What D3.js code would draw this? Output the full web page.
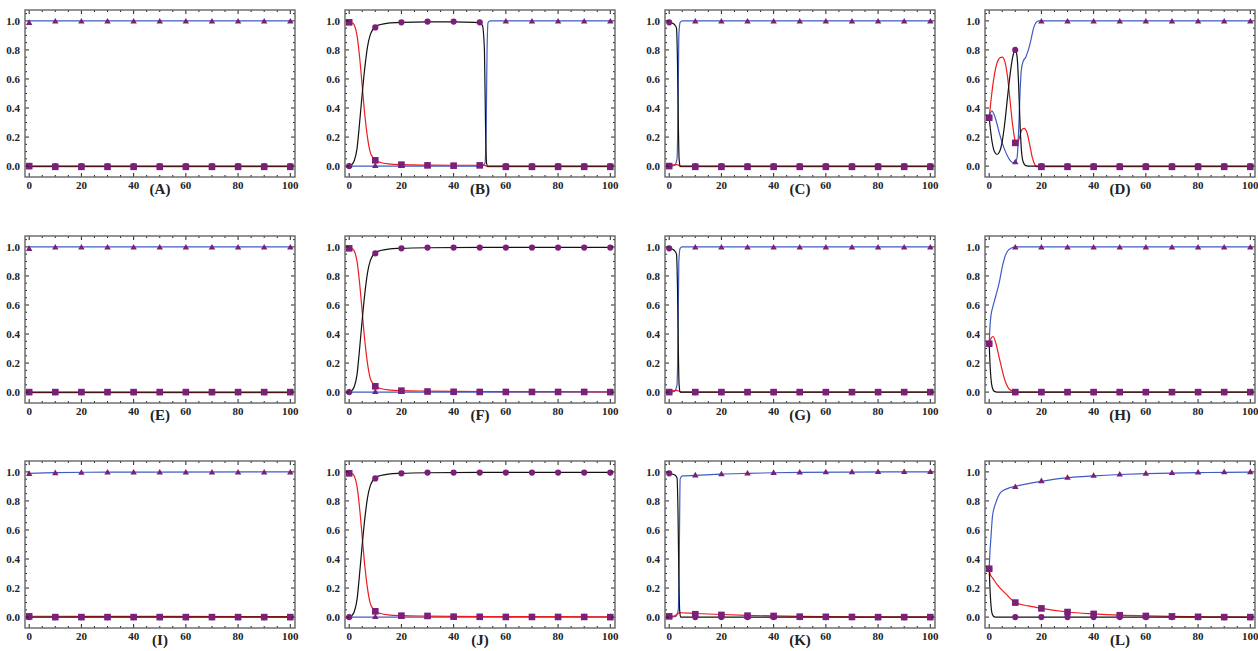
<!DOCTYPE html>
<html><head><meta charset="utf-8">
<script src="https://cdn.jsdelivr.net/npm/d3@7"></script>
<style>body{margin:0;background:#fff}svg{display:block}</style>
</head><body><svg id="c" width="1258" height="651"></svg>
<script>
const panelLabels = ["(A)","(B)","(C)","(D)","(E)","(F)","(G)","(H)","(I)","(J)","(K)","(L)"];
const xTicks = [0,20,40,60,80,100];
const yTicks = [0,0.2,0.4,0.6,0.8,1.0];
const yTickLabels = ["0.0","0.2","0.4","0.6","0.8","1.0"];
const markerX = [0,10,20,30,40,50,60,70,80,90,100];

const redCurves = [
 [[0,-0.003],[100,-0.003]],
 [[0,1.0],[1,0.99],[2,0.97],[3,0.9],[4,0.75],[5,0.55],[6,0.35],[7,0.2],[8,0.1],[9,0.06],[10,0.04],[12,0.025],[15,0.015],[20,0.01],[30,0.007],[40,0.006],[50,0.006],[52,0.005],[53,-0.004],[100,-0.004]],
 [[0,0.005],[3,0.01],[3.8,0.005],[4.2,-0.003],[100,-0.003]],
 [[0,0.333],[1,0.5],[2,0.63],[3,0.71],[4,0.745],[5,0.75],[6,0.72],[7,0.62],[8,0.45],[9,0.28],[10,0.17],[10.6,0.155],[11.5,0.19],[12.5,0.25],[13.4,0.26],[14.5,0.23],[15.5,0.15],[16.5,0.06],[17.5,0.01],[18,-0.003],[100,-0.003]],
 [[0,-0.003],[100,-0.003]],
 [[0,1.0],[1,0.99],[2,0.97],[3,0.9],[4,0.75],[5,0.55],[6,0.35],[7,0.2],[8,0.1],[9,0.06],[10,0.04],[12,0.025],[15,0.015],[20,0.01],[30,0.007],[40,0.005],[60,0.004],[80,0.003],[100,0.002]],
 [[0,0.005],[3,0.012],[3.8,0.006],[4.5,0],[100,0]],
 [[0,0.333],[0.7,0.37],[1.5,0.383],[2.5,0.34],[3.8,0.24],[5,0.15],[5.7,0.1],[6.7,0.05],[7.7,0.02],[9.6,0.004],[11,0],[100,0]],
 [[0,0.006],[50,0.005],[100,0.004]],
 [[0,1.0],[1,0.99],[2,0.97],[3,0.9],[4,0.75],[5,0.55],[6,0.35],[7,0.2],[8,0.1],[9,0.06],[10,0.04],[12,0.025],[15,0.015],[20,0.01],[30,0.007],[40,0.005],[60,0.004],[80,0.003],[100,0.002]],
 [[0,0.003],[2,0.008],[3,0.02],[4,0.03],[10,0.025],[20,0.018],[30,0.012],[40,0.008],[50,0.005],[60,0.003],[80,0.002],[100,0.001]],
 [[0,0.333],[0.5,0.29],[1.3,0.27],[3.2,0.22],[6.4,0.16],[10,0.1],[15,0.077],[20,0.06],[30,0.035],[40,0.022],[50,0.013],[60,0.008],[70,0.005],[80,0.003],[90,0.001],[100,0]]
];
const blackCurves = [
 [[0,0],[100,0]],
 [[0,0],[1,0.01],[2,0.04],[3,0.12],[4,0.3],[5,0.5],[6,0.68],[7,0.82],[8,0.9],[9,0.94],[10,0.96],[12,0.975],[15,0.985],[20,0.99],[30,0.993],[40,0.993],[48,0.99],[50,0.985],[51,0.97],[51.8,0.8],[52.2,0.3],[52.6,0.02],[53,0],[100,0]],
 [[0,0.99],[1,0.985],[2,0.975],[2.8,0.95],[3.2,0.7],[3.5,0.3],[3.8,0.05],[4.2,0],[100,0]],
 [[0,0.333],[1,0.18],[2,0.1],[3,0.08],[4,0.1],[5,0.17],[6,0.3],[7,0.47],[8,0.63],[9,0.75],[10,0.8],[10.7,0.75],[11.3,0.55],[11.8,0.3],[12.3,0.12],[13,0.03],[14,0.003],[15,0],[100,0]],
 [[0,0],[100,0]],
 [[0,0],[1,0.01],[2,0.04],[3,0.12],[4,0.3],[5,0.5],[6,0.68],[7,0.82],[8,0.9],[9,0.94],[10,0.96],[12,0.975],[15,0.985],[20,0.99],[30,0.994],[50,0.996],[100,0.997]],
 [[0,0.99],[1,0.985],[2,0.975],[2.8,0.95],[3.2,0.7],[3.5,0.3],[3.8,0.05],[4.2,0],[100,0]],
 [[0,0.333],[0.3,0.2],[0.7,0.09],[1.2,0.03],[2,0.005],[3,0],[100,0]],
 [[0,0],[100,0]],
 [[0,0],[1,0.01],[2,0.04],[3,0.12],[4,0.3],[5,0.5],[6,0.68],[7,0.82],[8,0.9],[9,0.94],[10,0.96],[12,0.975],[15,0.985],[20,0.99],[30,0.994],[50,0.996],[100,0.997]],
 [[0,0.99],[1,0.985],[2,0.98],[3,0.96],[3.4,0.7],[3.7,0.3],[4,0.05],[4.4,0],[100,0]],
 [[0,0.333],[0.3,0.2],[0.7,0.08],[1.2,0.02],[2,0.002],[3,0],[100,0]]
];
const blueCurves = [
 [[0,1],[100,1]],
 [[0,0],[50,0],[51,0.005],[52,0.02],[52.5,0.3],[52.8,0.8],[53.2,0.99],[54,1],[100,1]],
 [[0,0],[2,0.005],[3,0.05],[3.4,0.4],[3.7,0.9],[4.2,0.99],[5,1],[100,1]],
 [[0,0.333],[1,0.38],[2,0.35],[3,0.29],[4,0.22],[5,0.16],[6,0.11],[7,0.07],[8,0.04],[9,0.025],[10,0.025],[10.7,0.06],[11.3,0.25],[11.8,0.5],[12.3,0.66],[13,0.72],[14,0.75],[15,0.8],[16,0.87],[17,0.95],[18,0.99],[19,1],[100,1]],
 [[0,1],[100,1]],
 [[0,0],[100,0]],
 [[0,0],[2,0.005],[3,0.05],[3.4,0.4],[3.7,0.9],[4.2,0.99],[5,1],[100,1]],
 [[0,0.333],[0.3,0.45],[0.7,0.53],[1.3,0.58],[2.5,0.66],[3.8,0.75],[5,0.86],[6,0.93],[7,0.97],[8.3,0.99],[10,1],[100,1]],
 [[0,0.99],[10,0.995],[30,0.998],[100,1]],
 [[0,0],[100,0]],
 [[0,0],[2.5,0.005],[3.5,0.05],[3.9,0.5],[4.2,0.95],[5,0.972],[10,0.976],[20,0.985],[30,0.99],[40,0.994],[50,0.997],[70,0.999],[100,1]],
 [[0,0.333],[0.3,0.45],[0.64,0.54],[1.3,0.7],[2.6,0.79],[4.5,0.86],[7,0.885],[10,0.9],[20,0.935],[30,0.96],[40,0.973],[50,0.982],[60,0.988],[70,0.992],[80,0.995],[90,0.997],[100,0.998]]
];
const squareVals = [
 [0,-0.005,-0.005,-0.005,-0.005,-0.005,-0.005,-0.005,-0.005,-0.005,-0.005],
 [0.99,0.04,0.01,0.005,0.003,0.005,-0.005,-0.005,-0.005,-0.005,-0.005],
 [0,-0.005,-0.005,-0.005,-0.005,-0.005,-0.005,-0.005,-0.005,-0.005,-0.005],
 [0.333,0.16,-0.005,-0.005,-0.005,-0.005,-0.005,-0.005,-0.005,-0.005,-0.005],
 [0,0,0,0,0,0,0,0,0,0,0],
 [0.99,0.04,0.01,0.004,0.002,0.001,0.001,0.001,0.001,0.001,0],
 [0,0,0,0,0,0,0,0,0,0,0],
 [0.333,0,0,0,0,0,0,0,0,0,0],
 [0.005,0,0,0,0,0,0,0,0,0,0],
 [0.99,0.04,0.01,0.008,0.003,0.002,0.001,0.001,0.001,0.001,0],
 [0.005,0.02,0.015,0.01,0.008,0.003,0.002,0.001,0,0,0],
 [0.333,0.1,0.06,0.035,0.022,0.013,0.008,0.005,0.002,0,0]
];
const circleVals = [
 [0,0,0,0,0,0,0,0,0,0,0],
 [0,0.955,0.99,0.995,0.995,0.99,0,0,0,0,0],
 [0.99,0,0,0,0,0,0,0,0,0,0],
 [0.333,0.8,0,0,0,0,0,0,0,0,0],
 [0,0,0,0,0,0,0,0,0,0,0],
 [0,0.955,0.99,0.995,0.995,0.995,0.995,0.995,0.995,0.995,0.995],
 [0.99,0,0,0,0,0,0,0,0,0,0],
 [0.333,0,0,0,0,0,0,0,0,0,0],
 [0,0,0,0,0,0,0,0,0,0,0],
 [0,0.955,0.99,0.995,0.995,0.995,0.995,0.995,0.995,0.995,0.995],
 [0.99,0,0,0,0,0,0,0,0,0,0],
 [0.333,0,0,0,0,0,0,0,0,0,0]
];
const triangleVals = [
 [0.985,0.995,0.995,0.995,0.995,0.995,0.995,0.995,0.995,0.995,0.995],
 [0,0,0,0,0,0,0.995,0.995,0.995,0.995,0.995],
 [0,0.995,0.995,0.995,0.995,0.995,0.995,0.995,0.995,0.995,0.995],
 [0.333,0.025,0.995,0.995,0.995,0.995,0.995,0.995,0.995,0.995,0.995],
 [0.985,0.995,0.995,0.995,0.995,0.995,0.995,0.995,0.995,0.995,0.995],
 [0,0,0,0,0,0,0,0,0,0,0],
 [0,0.995,0.995,0.995,0.995,0.995,0.995,0.995,0.995,0.995,0.995],
 [0.333,0.995,0.995,0.995,0.995,0.995,0.995,0.995,0.995,0.995,0.995],
 [0.985,0.99,0.993,0.995,0.995,0.995,0.995,0.995,0.995,0.995,0.995],
 [0,0,0,0,0,0,0,0,0,0,0],
 [0,0.975,0.983,0.988,0.992,0.995,0.996,0.997,0.998,0.998,0.998],
 [0.333,0.895,0.935,0.958,0.972,0.981,0.987,0.991,0.994,0.996,0.997]
];

const svg = d3.select("#c");
const W = 270, H = 167;
const FONT = "'Liberation Serif','Times New Roman',serif";
const markColor = "#7b1f79";
const rowTops = [10, 236, 461];

panelLabels.forEach((lab, i) => {
  const col = i % 4, row = Math.floor(i / 4);
  const left = 25 + 320 * col, top = rowTops[row];
  const g = svg.append("g").attr("transform", `translate(${left},${top})`);
  const x = d3.scaleLinear().domain([-1.6, 101.8]).range([0, W]);
  const y = d3.scaleLinear().domain([-0.075, 1.075]).range([H, 0]);

  const cid = "clip" + i;
  g.append("clipPath").attr("id", cid).append("rect").attr("width", W).attr("height", H);
  const plot = g.append("g").attr("clip-path", `url(#${cid})`);

  const line = d3.line().x(d => x(d[0])).y(d => y(d[1])).curve(d3.curveMonotoneX);
  plot.append("path").attr("d", line(blueCurves[i])).attr("fill","none").attr("stroke","#3d5cc4").attr("stroke-width",1.2);
  plot.append("path").attr("d", line(redCurves[i])).attr("fill","none").attr("stroke","#ee1c1c").attr("stroke-width",1.2);
  plot.append("path").attr("d", line(blackCurves[i])).attr("fill","none").attr("stroke","#111").attr("stroke-width",1.2);

  const tri = d3.symbol().type(d3.symbolTriangle).size(18);
  plot.selectAll(".tri").data(markerX.map((v, k) => [v, triangleVals[i][k]])).join("path")
    .attr("transform", d => `translate(${x(d[0])},${y(d[1])})`).attr("d", tri).attr("fill", markColor);
  plot.selectAll(".cir").data(markerX.map((v, k) => [v, circleVals[i][k]])).join("circle")
    .attr("cx", d => x(d[0])).attr("cy", d => y(d[1])).attr("r", 3.1).attr("fill", markColor);
  plot.selectAll(".sq").data(markerX.map((v, k) => [v, squareVals[i][k]])).join("rect")
    .attr("x", d => x(d[0]) - 3.3).attr("y", d => y(d[1]) - 3.3).attr("width", 6.6).attr("height", 6.6).attr("fill", markColor);

  const xMinor = d3.range(0, 101, 5), yMinor = d3.range(0, 1.051, 0.05);
  const tk = g.append("g").attr("stroke", "#222").attr("stroke-width", 1);
  xMinor.forEach(v => {
    const L = (Math.round(v) % 20 === 0) ? 4 : 2;
    tk.append("line").attr("x1", x(v)).attr("x2", x(v)).attr("y1", H).attr("y2", H - L);
    tk.append("line").attr("x1", x(v)).attr("x2", x(v)).attr("y1", 0).attr("y2", L);
  });
  yMinor.forEach(v => {
    const L = (Math.abs(v * 5 - Math.round(v * 5)) < 1e-6) ? 4 : 2;
    tk.append("line").attr("y1", y(v)).attr("y2", y(v)).attr("x1", 0).attr("x2", L);
    tk.append("line").attr("y1", y(v)).attr("y2", y(v)).attr("x1", W).attr("x2", W - L);
  });
  g.append("rect").attr("width", W).attr("height", H).attr("fill", "none").attr("stroke", "#666").attr("stroke-width", 1.4);

  g.selectAll(".xl").data(xTicks).join("text")
    .attr("x", d => x(d)).attr("y", H + 12).attr("text-anchor", "middle")
    .attr("font-family", FONT).attr("font-weight", "bold").attr("font-size", 11).attr("fill", "#222")
    .text(d => d);
  g.selectAll(".yl").data(yTicks).join("text")
    .attr("x", -5).attr("y", (d) => y(d) + 3.8).attr("text-anchor", "end")
    .attr("font-family", FONT).attr("font-weight", "bold").attr("font-size", 11).attr("fill", "#222")
    .text((d, k) => yTickLabels[k]);
  g.append("text").attr("x", W / 2).attr("y", H + 17).attr("text-anchor", "middle")
    .attr("font-family", FONT).attr("font-weight", "bold").attr("font-size", 15).attr("fill", "#222")
    .text(lab);
});
</script></body></html>
